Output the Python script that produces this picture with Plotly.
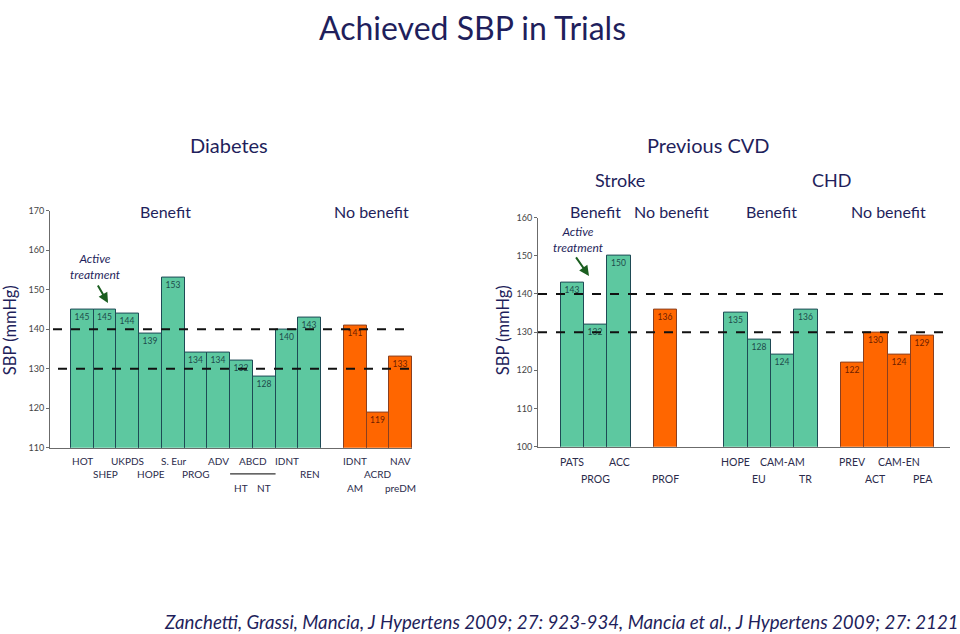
import plotly.graph_objects as go

# ---------------- data ----------------
# Diabetes panel
dia_benefit_trials = ["HOT", "SHEP", "UKPDS", "HOPE", "S. Eur", "PROG", "ADV", "ABCD HT", "ABCD NT", "IDNT", "REN"]
dia_benefit_sbp = [145, 145, 144, 139, 153, 134, 134, 132, 128, 140, 143]
dia_nobenefit_trials = ["IDNT AM", "ACRD", "NAV preDM"]
dia_nobenefit_sbp = [141, 119, 133]

# Previous CVD panel
cvd_benefit_stroke_trials = ["PATS", "PROG", "ACC"]
cvd_benefit_stroke_sbp = [143, 132, 150]
cvd_nobenefit_stroke_trials = ["PROF"]
cvd_nobenefit_stroke_sbp = [136]
cvd_benefit_chd_trials = ["HOPE", "EU", "CAM-AM", "TR"]
cvd_benefit_chd_sbp = [135, 128, 124, 136]
cvd_nobenefit_chd_trials = ["PREV", "ACT", "CAM-EN", "PEA"]
cvd_nobenefit_chd_sbp = [122, 130, 124, 129]

# reference thresholds (mmHg)
thresholds = [140, 130]

# tick labels
dia_yticks = [110, 120, 130, 140, 150, 160, 170]
cvd_yticks = [100, 110, 120, 130, 140, 150, 160]

# ---------------- style ----------------
W, H = 960, 634
GREEN = "#5DC8A0"
GREEN_LINE = "#1E4A55"
ORANGE = "#FF6600"
ORANGE_LINE = "#8A4020"
NAVY = "#1F1F5C"
FONT = "Lato"

def px(x):
    return x / W

def py(y):
    y = (y - 7.4) / 0.978
    return 1 - y / H

# category orders with blank gap slots
dia_order = dia_benefit_trials + [" "] + dia_nobenefit_trials
cvd_order = (cvd_benefit_stroke_trials + [" "] + cvd_nobenefit_stroke_trials + ["  ", "   "]
             + cvd_benefit_chd_trials + ["    "] + cvd_nobenefit_chd_trials)

fig = go.Figure()

def add_bars(x, y, color, line, tcolor, xa, ya):
    fig.add_trace(go.Bar(
        x=x, y=y, xaxis=xa, yaxis=ya,
        marker=dict(color=color, line=dict(color=line, width=1)),
        text=[str(v) for v in y], textposition="inside", insidetextanchor="end",
        textangle=0, constraintext="none",
        textfont=dict(size=8.5, color=tcolor, family=FONT),
        showlegend=False, hoverinfo="x+y", cliponaxis=False,
    ))

add_bars(dia_benefit_trials, dia_benefit_sbp, GREEN, GREEN_LINE, "#1D4B4B", "x", "y")
add_bars(dia_nobenefit_trials, dia_nobenefit_sbp, ORANGE, ORANGE_LINE, "#6E1E00", "x", "y")
add_bars(cvd_benefit_stroke_trials, cvd_benefit_stroke_sbp, GREEN, GREEN_LINE, "#1D4B4B", "x2", "y2")
add_bars(cvd_nobenefit_stroke_trials, cvd_nobenefit_stroke_sbp, ORANGE, ORANGE_LINE, "#6E1E00", "x2", "y2")
add_bars(cvd_benefit_chd_trials, cvd_benefit_chd_sbp, GREEN, GREEN_LINE, "#1D4B4B", "x2", "y2")
add_bars(cvd_nobenefit_chd_trials, cvd_nobenefit_chd_sbp, ORANGE, ORANGE_LINE, "#6E1E00", "x2", "y2")

axis_common = dict(showgrid=False, zeroline=False, showline=True, linecolor="#6B6B6B", linewidth=1)

fig.update_layout(
    width=W, height=H, margin=dict(l=0, r=0, t=0, b=0),
    paper_bgcolor="white", plot_bgcolor="rgba(0,0,0,0)",
    bargap=0, barmode="overlay",
    font=dict(family=FONT, color=NAVY),
    xaxis=dict(domain=[px(50), px(412)], anchor="y", type="category",
               categoryorder="array", categoryarray=dia_order,
               range=[-1.42, 14.5], showticklabels=False, ticks="", **axis_common),
    yaxis=dict(domain=[py(447), py(211)], anchor="x", range=[110, 170],
               tickvals=dia_yticks, ticks="outside", ticklen=3, tickcolor="#6B6B6B",
               tickfont=dict(size=9, color="#444444", family=FONT), **axis_common),
    xaxis2=dict(domain=[px(538), px(950)], anchor="y2", type="category",
                categoryorder="array", categoryarray=cvd_order,
                range=[-1.47, 16.17], showticklabels=False, ticks="", **axis_common),
    yaxis2=dict(domain=[py(446), py(218)], anchor="x2", range=[100, 160],
                tickvals=cvd_yticks, ticks="outside", ticklen=3, tickcolor="#6B6B6B",
                tickfont=dict(size=9, color="#444444", family=FONT), **axis_common),
)

# dashed threshold lines
shapes = []
for t, (x0, x1) in zip(thresholds, [(53, 410), (58, 415)]):
    shapes.append(dict(type="line", xref="paper", yref="y", x0=px(x0), x1=px(x1), y0=t, y1=t,
                       line=dict(color="#111111", width=2, dash="dash")))
for t in thresholds:
    shapes.append(dict(type="line", xref="paper", yref="y2", x0=px(538), x1=px(947), y0=t, y1=t,
                       line=dict(color="#111111", width=2, dash="dash")))
# ABCD bracket line
hi = dia_order.index("ABCD HT")
shapes.append(dict(type="line", xref="x", yref="paper", x0=hi - 0.5, x1=hi + 1.5,
                   y0=py(473), y1=py(473), line=dict(color="#333333", width=1.2)))
fig.update_layout(shapes=shapes)

ann = []

def text(x, y, s, size, italic=False, color=NAVY, xref="paper", angle=0):
    ann.append(dict(x=x if xref != "paper" else px(x), y=py(y), xref=xref, yref="paper",
                    text=f"<i>{s}</i>" if italic else s, showarrow=False,
                    font=dict(size=size, color=color, family=FONT),
                    xanchor="center", yanchor="middle", textangle=angle))

# titles & headings
ann.append(dict(x=px(472), y=1, xref="paper", yref="paper", text="Achieved SBP in Trials",
                showarrow=False, font=dict(size=32, color=NAVY, family=FONT),
                xanchor="center", yanchor="top"))
text(229, 146, "Diabetes", 20)
text(708, 146, "Previous CVD", 20)
text(620, 181, "Stroke", 18)
text(831, 181, "CHD", 18)
text(165, 212, "Benefit", 16)
text(371, 212, "No benefit", 16)
text(595, 212, "Benefit", 16)
text(671, 212, "No benefit", 16)
text(771, 212, "Benefit", 16)
text(888, 212, "No benefit", 16)
text(10, 330, "SBP (mmHg)", 16.5, angle=-90)
text(503, 330, "SBP (mmHg)", 16.5, angle=-90)
text(95, 267, "Active<br>treatment", 12, italic=True)
text(578, 240, "Active<br>treatment", 12, italic=True)
text(561, 620, "Zanchetti, Grassi, Mancia, J Hypertens 2009; 27: 923-934, Mancia et al., J Hypertens 2009; 27: 2121",
     18.7, italic=True)

# category labels (staggered rows)
LBL = "#2B2B4B"
dia_rows_y = [460, 473, 487]
dia_label_text = ["HOT", "SHEP", "UKPDS", "HOPE", "S. Eur", "PROG", "ADV", "HT", "NT", "IDNT", "REN",
                  "", "AM", "ACRD", "preDM"]
dia_label_row = [0, 1, 0, 1, 0, 1, 0, 2, 2, 0, 1, 0, 2, 1, 2]
for cat, s, r in zip(dia_order, dia_label_text, dia_label_row):
    if s:
        text(cat, dia_rows_y[r], s, 10, color=LBL, xref="x")
text(hi + 0.5, dia_rows_y[0], "ABCD", 10, color=LBL, xref="x")
text("IDNT AM", dia_rows_y[0], "IDNT", 10, color=LBL, xref="x")
text("NAV preDM", dia_rows_y[0], "NAV", 10, color=LBL, xref="x")

cvd_rows_y = [461, 478]
cvd_label_row = {"PATS": 0, "PROG": 1, "ACC": 0, "PROF": 1, "HOPE": 0, "EU": 1, "CAM-AM": 0, "TR": 1,
                 "PREV": 0, "ACT": 1, "CAM-EN": 0, "PEA": 1}
for cat in cvd_order:
    if cat.strip():
        text(cat, cvd_rows_y[cvd_label_row[cat]], cat, 10.5, color=LBL, xref="x2")

# arrows
def arrow(hx, hy, dx, dy):
    ann.append(dict(x=px(hx), y=py(hy), xref="paper", yref="paper", text="", showarrow=True,
                    ax=dx, ay=dy, axref="pixel", ayref="pixel",
                    arrowhead=2, arrowsize=1, arrowwidth=2, arrowcolor="#1B5E20"))

arrow(108, 303, -11, -19)
arrow(589, 276, -14, -20)

fig.update_layout(annotations=ann)
post = (
    "document.documentElement.style.margin='0';document.documentElement.style.padding='0';"
    "document.documentElement.style.overflow='hidden';"
    "document.body.style.margin='0';document.body.style.padding='0';document.body.style.overflow='hidden';"
    "var d=document.getElementById('{plot_id}');d.style.position='fixed';d.style.left='0px';d.style.top='0px';"
)
fig.write_html("out.html", config={"displayModeBar": False}, post_script=post)
